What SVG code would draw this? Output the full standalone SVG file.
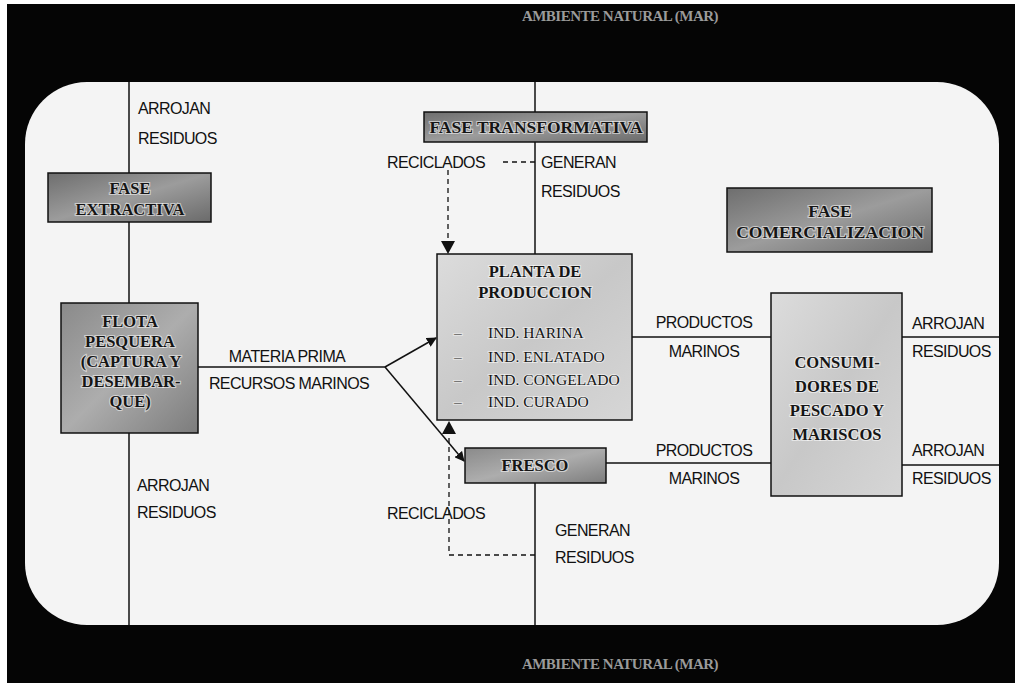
<svg xmlns="http://www.w3.org/2000/svg" width="1015" height="683" viewBox="0 0 1015 683">
<style>
.lbl{font-family:"Liberation Sans",Arial,sans-serif;font-size:16px;letter-spacing:-0.6px;fill:#111}
.bt{font-family:"Liberation Serif","Times New Roman",serif;font-weight:bold;font-size:16.5px;fill:#151515;text-anchor:middle;stroke:#ffffff;stroke-opacity:0.55;stroke-width:2.2px;paint-order:stroke}
.big{font-size:17.5px}
.it{font-family:"Liberation Serif","Times New Roman",serif;font-size:15.5px;fill:#151515;stroke:#ffffff;stroke-opacity:0.5;stroke-width:2px;paint-order:stroke}
.ttl{font-family:"Liberation Serif","Times New Roman",serif;font-weight:bold;font-size:15px;fill:#9a9a9a;text-anchor:middle;letter-spacing:-0.5px}
.box{stroke:#111;stroke-width:1.5}
.ln{stroke:#111;stroke-width:1.5;fill:none}
.dash{stroke:#111;stroke-width:1.3;fill:none;stroke-dasharray:5 4}
</style>
<defs>
<linearGradient id="gDark" x1="0" y1="0" x2="1" y2="1">
<stop offset="0" stop-color="#6e6e6e"/><stop offset="0.5" stop-color="#9c9c9c"/><stop offset="1" stop-color="#6a6a6a"/>
</linearGradient>
<linearGradient id="gMid" x1="0" y1="0" x2="1" y2="1">
<stop offset="0" stop-color="#8a8a8a"/><stop offset="0.5" stop-color="#adadad"/><stop offset="1" stop-color="#7c7c7c"/>
</linearGradient>
<linearGradient id="gLight" x1="0" y1="0" x2="1" y2="1">
<stop offset="0" stop-color="#dcdcdc"/><stop offset="0.5" stop-color="#c8c8c8"/><stop offset="1" stop-color="#d6d6d6"/>
</linearGradient>
<marker id="ah" viewBox="0 0 10 10" refX="9" refY="5" markerWidth="10" markerHeight="10" orient="auto-start-reverse" markerUnits="userSpaceOnUse">
<path d="M0,0 L10,5 L0,10 z" fill="#111"/>
</marker>
</defs>

<rect x="0" y="0" width="1015" height="683" fill="#ffffff"/>
<rect x="7" y="4" width="1008" height="679" fill="#050505"/>
<rect id="fondo" x="25" y="82" width="974" height="543" rx="62" ry="62" fill="#f4f4f4"/>

<text class="ttl" x="620" y="21">AMBIENTE NATURAL (MAR)</text>
<text class="ttl" x="620" y="669">AMBIENTE NATURAL (MAR)</text>

<g id="connectors">
<line class="ln" x1="129" y1="82" x2="129" y2="625"/>
<line class="ln" x1="535" y1="82" x2="535" y2="254"/>
<line class="ln" x1="535" y1="483" x2="535" y2="625"/>
<line class="ln" x1="198" y1="367" x2="385" y2="367"/>
<line class="ln" x1="385" y1="367" x2="436" y2="338" marker-end="url(#ah)"/>
<line class="ln" x1="385" y1="367" x2="464" y2="461" marker-end="url(#ah)"/>
<line class="ln" x1="632" y1="337" x2="771" y2="337"/>
<line class="ln" x1="606" y1="463" x2="771" y2="463"/>
<line class="ln" x1="902" y1="337" x2="999" y2="337"/>
<line class="ln" x1="902" y1="465" x2="999" y2="465"/>
<polyline class="dash" points="503,162 535,162"/>
<polyline class="dash" points="448,170 448,244"/>
<path d="M441,241 L455,241 L448,254 z" fill="#111"/>
<polyline class="dash" points="535,555 449,555 449,434"/>
<path d="M442,434 L456,434 L449,421 z" fill="#111"/>
</g>

<g id="labels">
<text class="lbl" x="138" y="114">ARROJAN</text>
<text class="lbl" x="138" y="144">RESIDUOS</text>
<text class="lbl" x="137" y="491">ARROJAN</text>
<text class="lbl" x="137" y="518">RESIDUOS</text>
<text class="lbl" x="287" y="362" text-anchor="middle">MATERIA PRIMA</text>
<text class="lbl" x="289" y="389" text-anchor="middle">RECURSOS MARINOS</text>
<text class="lbl" x="387" y="168">RECICLADOS</text>
<text class="lbl" x="541" y="168">GENERAN</text>
<text class="lbl" x="541" y="197">RESIDUOS</text>
<text class="lbl" x="387" y="519">RECICLADOS</text>
<text class="lbl" x="555" y="536">GENERAN</text>
<text class="lbl" x="555" y="563">RESIDUOS</text>
<text class="lbl" x="704" y="328" text-anchor="middle">PRODUCTOS</text>
<text class="lbl" x="704" y="357" text-anchor="middle">MARINOS</text>
<text class="lbl" x="704" y="456" text-anchor="middle">PRODUCTOS</text>
<text class="lbl" x="704" y="484" text-anchor="middle">MARINOS</text>
<text class="lbl" x="912" y="329">ARROJAN</text>
<text class="lbl" x="912" y="357">RESIDUOS</text>
<text class="lbl" x="912" y="456">ARROJAN</text>
<text class="lbl" x="912" y="484">RESIDUOS</text>
</g>

<g id="fase-extractiva">
<rect class="box" x="48" y="173" width="163" height="49" fill="url(#gDark)"/>
<text class="bt" x="130" y="194">FASE</text>
<text class="bt" x="130" y="215">EXTRACTIVA</text>
</g>

<g id="flota-pesquera">
<rect class="box" x="61" y="303" width="137" height="130" fill="url(#gMid)"/>
<text class="bt" x="130" y="327">FLOTA</text>
<text class="bt" x="130" y="347">PESQUERA</text>
<text class="bt" x="131" y="367">(CAPTURA Y</text>
<text class="bt" x="131" y="387">DESEMBAR-</text>
<text class="bt" x="130" y="407">QUE)</text>
</g>

<g id="fase-transformativa">
<rect class="box" x="424" y="112" width="223" height="30" fill="url(#gDark)"/>
<text class="bt big" x="536" y="133">FASE TRANSFORMATIVA</text>
</g>

<g id="planta-produccion">
<rect class="box" x="437" y="254" width="195" height="166" fill="url(#gLight)"/>
<text class="bt" x="535" y="277">PLANTA DE</text>
<text class="bt" x="535" y="298">PRODUCCION</text>
<text class="it" x="454" y="338">–</text>
<text class="it" x="488" y="338">IND. HARINA</text>
<text class="it" x="454" y="362">–</text>
<text class="it" x="488" y="362">IND. ENLATADO</text>
<text class="it" x="454" y="385">–</text>
<text class="it" x="488" y="385">IND. CONGELADO</text>
<text class="it" x="454" y="407">–</text>
<text class="it" x="488" y="407">IND. CURADO</text>
</g>

<g id="fresco">
<rect class="box" x="465" y="448" width="141" height="35" fill="url(#gMid)"/>
<text class="bt" x="535" y="471">FRESCO</text>
</g>

<g id="fase-comercializacion">
<rect class="box" x="727" y="188" width="205" height="64" fill="url(#gDark)"/>
<text class="bt big" x="830" y="217">FASE</text>
<text class="bt big" x="830" y="238">COMERCIALIZACION</text>
</g>

<g id="consumidores">
<rect class="box" x="771" y="293" width="131" height="203" fill="url(#gLight)"/>
<text class="bt" x="837" y="368">CONSUMI-</text>
<text class="bt" x="837" y="392">DORES DE</text>
<text class="bt" x="837" y="416">PESCADO Y</text>
<text class="bt" x="837" y="440">MARISCOS</text>
</g>
</svg>
